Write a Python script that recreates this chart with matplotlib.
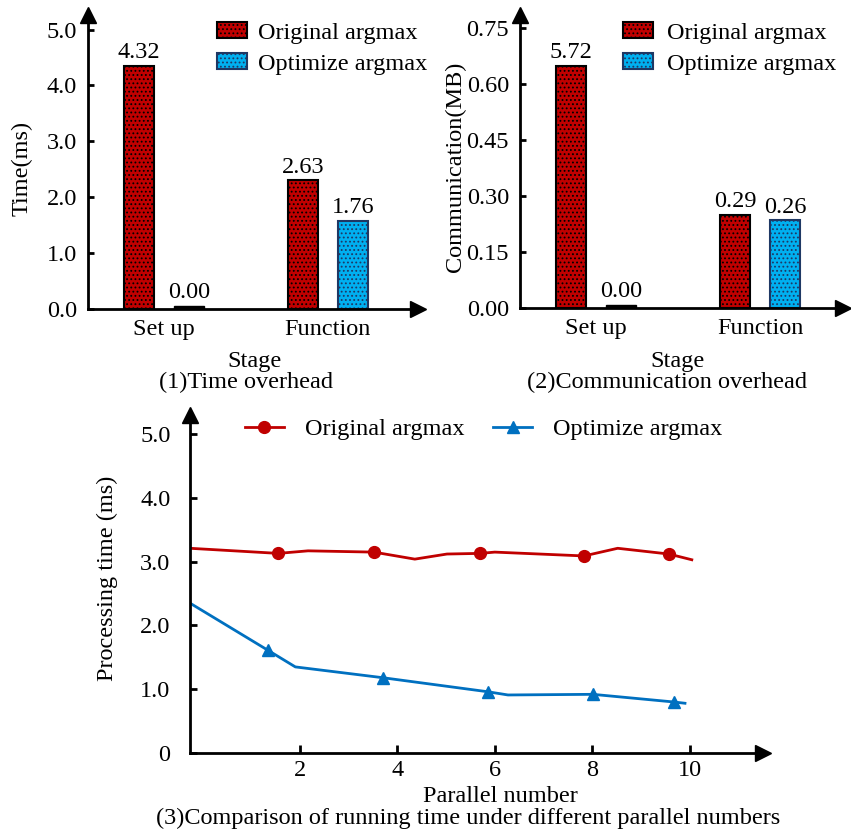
import matplotlib
matplotlib.use("Agg")
import matplotlib.pyplot as plt
from matplotlib.patches import Patch
from matplotlib.ticker import FormatStrFormatter

plt.rcParams['font.family'] = ['Liberation Serif', 'DejaVu Serif']
plt.rcParams['font.size'] = 17.5
plt.rcParams['hatch.linewidth'] = 0.8

# ---- data ----
stages = ['Set up', 'Function']
time_orig = [4.35, 2.30]
time_opt = [0.06, 1.58]
time_orig_lbl = ['4.32', '2.63']
time_opt_lbl = ['0.00', '1.76']

comm_orig = [0.65, 0.25]
comm_opt = [0.008, 0.235]
comm_orig_lbl = ['5.72', '0.29']
comm_opt_lbl = ['0.00', '0.26']

orig_x = [-0.25, 1.56, 2.17, 3.52, 4.36, 5.02, 5.70, 6.00, 7.83, 8.52, 9.57, 10.04]
orig_y = [3.21, 3.13, 3.17, 3.15, 3.04, 3.12, 3.13, 3.15, 3.09, 3.21, 3.12, 3.03]
orig_marks = [1, 3, 6, 8, 10]
opt_x = [-0.25, 1.35, 1.91, 3.71, 5.86, 6.27, 8.01, 9.67, 9.90]
opt_y = [2.35, 1.61, 1.35, 1.18, 0.96, 0.91, 0.92, 0.80, 0.78]
opt_marks = [1, 3, 4, 6, 7]

RED = '#C00000'
BLUE_BAR = '#00B0F0'
NAVY = '#1F3864'
BLUE_LINE = '#0070C0'

W, H = 851, 834
fig = plt.figure(figsize=(W / 100, H / 100), dpi=100)


def box(l, b, r, t):
    return [l / W, 1 - b / H, (r - l) / W, (b - t) / H]


def arrows(ax):
    for s in ['top', 'right']:
        ax.spines[s].set_visible(False)
    for s in ['left', 'bottom']:
        ax.spines[s].set_linewidth(2)
    ax.plot(1, 0, '>k', ms=11, transform=ax.transAxes, clip_on=False)
    ax.plot(0, 1, '^k', ms=11, transform=ax.transAxes, clip_on=False)


def bars(ax, orig, opt, orig_lbl, opt_lbl, xmax, ymax, fmt):
    x = range(len(stages))
    w = 0.18
    d = 0.153
    ax.bar([i - d for i in x], orig, w, color=RED, edgecolor='black', lw=1.5, hatch='....')
    for i in x:
        if opt_lbl[i] == '0.00':
            ax.bar(i + d, opt[i], w, color='black', edgecolor='black', lw=1)
        else:
            ax.bar(i + d, opt[i], w, color=BLUE_BAR, edgecolor=NAVY, lw=1.5, hatch='....')
    for i in x:
        ax.annotate(orig_lbl[i], (i - d, orig[i]), xytext=(0, 2), textcoords='offset points', ha='center', va='bottom')
        ax.annotate(opt_lbl[i], (i + d, opt[i]), xytext=(0, 2), textcoords='offset points', ha='center', va='bottom')
    ax.set_xlim(-0.463, xmax)
    ax.set_ylim(0, ymax)
    ax.set_xticks(list(x))
    ax.set_xticklabels(stages)
    ax.yaxis.set_major_formatter(FormatStrFormatter(fmt))
    ax.tick_params(axis='x', length=0, pad=7)
    ax.tick_params(axis='y', direction='in', length=4, width=2, pad=8)
    arrows(ax)


legend_handles = [Patch(facecolor=RED, edgecolor='black', hatch='....', lw=1.5),
                  Patch(facecolor=BLUE_BAR, edgecolor=NAVY, hatch='....', lw=1.5)]
legend_labels = ['Original argmax', 'Optimize argmax']

# (1) time overhead
ax1 = fig.add_axes(box(88, 309, 418, 15))
bars(ax1, time_orig, time_opt, time_orig_lbl, time_opt_lbl, 1.549, 5.26, '%.1f')
ax1.set_yticks([0, 1, 2, 3, 4, 5])
ax1.legend(legend_handles, legend_labels, loc='upper left', bbox_to_anchor=(217 / W, 1 - 22 / H),
           bbox_transform=fig.transFigure, frameon=False, borderpad=0, borderaxespad=0,
           handlelength=1.23, handleheight=0.64, handletextpad=0.45, labelspacing=0.4)

# (2) communication overhead
ax2 = fig.add_axes(box(520, 308, 843, 15))
bars(ax2, comm_orig, comm_opt, comm_orig_lbl, comm_opt_lbl, 1.506, 0.786, '%.2f')
ax2.set_yticks([0, 0.15, 0.30, 0.45, 0.60, 0.75])
ax2.legend(legend_handles, legend_labels, loc='upper left', bbox_to_anchor=(623 / W, 1 - 22 / H),
           bbox_transform=fig.transFigure, frameon=False, borderpad=0, borderaxespad=0,
           handlelength=1.23, handleheight=0.64, handletextpad=0.6, labelspacing=0.4)

# (3) running time vs parallel number
ax3 = fig.add_axes(box(190, 753, 763, 415))
ax3.plot(orig_x, orig_y, color=RED, lw=2, marker='o', ms=8.5, markevery=orig_marks, label='Original argmax')
ax3.plot(opt_x, opt_y, color=BLUE_LINE, lw=2, marker='^', ms=9, markevery=opt_marks, label='Optimize argmax')
ax3.set_xlim(-0.25, 11.5)
ax3.set_ylim(0, 5.3)
ax3.set_xticks([2, 4, 6, 8, 10])
ax3.set_yticks([0, 1, 2, 3, 4, 5])
ax3.set_yticklabels(['0', '1.0', '2.0', '3.0', '4.0', '5.0'])
ax3.tick_params(axis='x', direction='in', length=6, width=2, pad=5)
ax3.tick_params(axis='y', direction='in', length=5, width=2, pad=14)
arrows(ax3)
ax3.legend(loc='upper left', ncol=2, bbox_to_anchor=(245 / W, 1 - 418 / H), bbox_transform=fig.transFigure,
           frameon=False, borderpad=0, borderaxespad=0, handlelength=1.6, handletextpad=0.85,
           columnspacing=1.2)

# axis titles and captions
fig.text(254 / W, 1 - 362 / H, 'Stage', ha='center', va='center')
fig.text(246 / W, 1 - 382 / H, '(1)Time overhead', ha='center', va='center')
fig.text(677 / W, 1 - 362 / H, 'Stage', ha='center', va='center')
fig.text(667 / W, 1 - 382 / H, '(2)Communication overhead', ha='center', va='center')
fig.text(22 / W, 1 - 168 / H, 'Time(ms)', rotation=90, ha='center', va='center')
fig.text(455 / W, 1 - 167 / H, 'Communication(MB)', rotation=90, ha='center', va='center')
fig.text(107 / W, 1 - 578 / H, 'Processing time (ms)', rotation=90, ha='center', va='center')
fig.text(500 / W, 1 - 797 / H, 'Parallel number', ha='center', va='center')
fig.text(468 / W, 1 - 818 / H, '(3)Comparison of running time under different parallel numbers',
         ha='center', va='center')

fig.savefig('out.png', dpi=100)
